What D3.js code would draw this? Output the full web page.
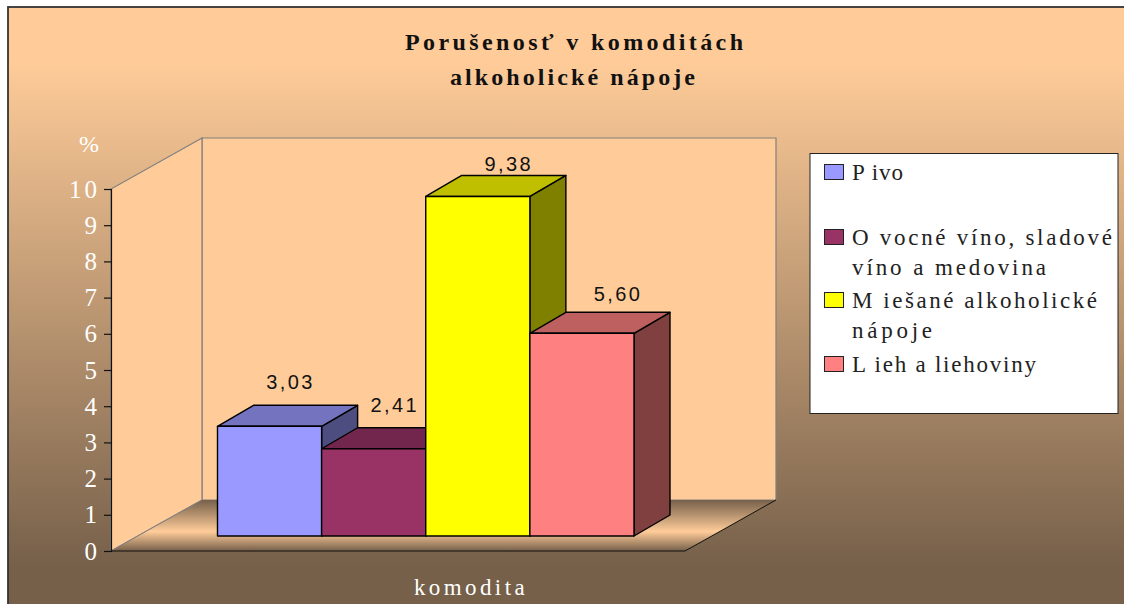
<!DOCTYPE html>
<html>
<head>
<meta charset="utf-8">
<script src="https://cdn.jsdelivr.net/npm/d3@7"></script>
<style>
  html, body { margin: 0; padding: 0; background: #fff; }
  svg { display: block; }
  text { font-family: "Liberation Serif", serif; }
</style>
</head>
<body>
<div id="chart"></div>
<script>
const categories = ["Pivo", "Ovocné víno, sladové víno a medovina", "Miešané alkoholické nápoje", "Lieh a liehoviny"];
const values = [3.03, 2.41, 9.38, 5.60];
const valueLabels = ["3,03", "2,41", "9,38", "5,60"];
const colors = ["#9999ff", "#993366", "#ffff00", "#ff8080"];
const topColors = ["#7373bf", "#73264d", "#bfbf00", "#bf6060"];
const sideColors = ["#4d4d80", "#4d1a33", "#808000", "#804040"];
const yTicks = [0, 1, 2, 3, 4, 5, 6, 7, 8, 9, 10];
const legendLines = [["P ivo"], ["O vocné víno, sladové", "víno a medovina"], ["M iešané alkoholické", "nápoje"], ["L ieh a liehoviny"]];
const legendY = [172, 237, 300, 364];
const legendWidths = [[51], [260, 194], [245, 80], [184]];
// the labels are not placed evenly in the original
const labelDx = [1, 1, 11, 16];
const labelDy = [-37, -37, -25, -32];

const svg = d3.select("#chart").append("svg").attr("width", 1124).attr("height", 604);
const defs = svg.append("defs");

const bg = defs.append("linearGradient").attr("id", "bg").attr("gradientUnits", "userSpaceOnUse")
  .attr("x1", 0).attr("x2", 0).attr("y1", 0).attr("y2", 604);
bg.append("stop").attr("offset", "0.1").attr("stop-color", "#ffcc99");
bg.append("stop").attr("offset", "0.94").attr("stop-color", "#76604a");

const fl = defs.append("linearGradient").attr("id", "floor").attr("x1", 0).attr("x2", 0).attr("y1", 0).attr("y2", 1);
fl.append("stop").attr("offset", "0").attr("stop-color", "#76604a");
fl.append("stop").attr("offset", "0.62").attr("stop-color", "#ffcc99");
fl.append("stop").attr("offset", "1").attr("stop-color", "#76604a");

svg.append("rect").attr("x", 8).attr("y", 7).attr("width", 1130).attr("height", 610)
  .attr("fill", "url(#bg)").attr("stroke", "#333").attr("stroke-width", 1.8);

// scales: front plane of the axis and the plane the bars stand on
const y = d3.scaleLinear().domain([0, 10]).range([551, 189]);
const x = d3.scaleBand().domain(categories).range([217.5, 634]);
const depthX = 91, depthY = -51;   // full depth of the floor
const barDx = 36, barDy = -21;     // depth of one bar
const barLift = y(0) - 536;        // bars sit a bit behind the front edge

const line = d3.line();
const wallStroke = "#808080";

// back wall
svg.append("path")
  .attr("d", line([[111 + depthX, y(0) + depthY], [111 + depthX, y(10) + depthY], [685 + depthX, y(10) + depthY], [685 + depthX, y(0) + depthY]]) + "Z")
  .attr("fill", "#ffcc99").attr("stroke", wallStroke).attr("stroke-width", 1.2);
// side wall
svg.append("path")
  .attr("d", line([[111, y(0)], [111, y(10)], [111 + depthX, y(10) + depthY], [111 + depthX, y(0) + depthY]]) + "Z")
  .attr("fill", "#ffcc99").attr("stroke", wallStroke).attr("stroke-width", 1.2);
// floor
svg.append("path")
  .attr("d", line([[111, y(0)], [111 + depthX, y(0) + depthY], [685 + depthX, y(0) + depthY], [685, y(0)]]) + "Z")
  .attr("fill", "url(#floor)");
svg.append("path").attr("d", line([[111, y(0)], [111 + depthX, y(0) + depthY]])).attr("stroke", wallStroke).attr("fill", "none");
svg.append("path").attr("d", line([[685, y(0)], [685 + depthX, y(0) + depthY]])).attr("stroke", "#111").attr("fill", "none");
svg.append("path").attr("d", line([[111, y(0)], [685, y(0)]])).attr("stroke", "#111").attr("stroke-width", 1.2).attr("fill", "none");

// y axis
const axis = svg.append("g").attr("transform", "translate(111,0)")
  .call(d3.axisLeft(y).tickValues(yTicks).tickSize(7).tickPadding(7));
axis.selectAll("path,line").attr("stroke", "#111").attr("stroke-width", 1.2);
axis.selectAll("text").attr("fill", "#fff").attr("font-size", 25).attr("font-family", "Liberation Serif");
axis.selectAll("text").filter(d => d === 10).attr("letter-spacing", 3).attr("dx", 3);

svg.append("text").attr("x", 89).attr("y", 152).attr("text-anchor", "middle")
  .attr("fill", "#fff").attr("font-size", 24).text("%");

// bars, drawn left to right so the neighbours overlap as in the picture
const bars = svg.append("g").attr("stroke", "#000").attr("stroke-width", 1.4).attr("stroke-linejoin", "round");
const barData = categories.map((c, i) => ({ c, i, v: values[i] }));
barData.forEach(d => {
  const x0 = x(d.c), x1 = x0 + x.bandwidth();
  const y0 = y(0) - barLift, y1 = y(d.v) - barLift;
  bars.append("path").attr("fill", sideColors[d.i])
    .attr("d", line([[x1, y0], [x1, y1], [x1 + barDx, y1 + barDy], [x1 + barDx, y0 + barDy]]) + "Z");
  bars.append("path").attr("fill", topColors[d.i])
    .attr("d", line([[x0, y1], [x1, y1], [x1 + barDx, y1 + barDy], [x0 + barDx, y1 + barDy]]) + "Z");
  bars.append("rect").attr("x", x0).attr("y", y1).attr("width", x.bandwidth()).attr("height", y0 - y1).attr("fill", colors[d.i]);
});

// value labels
svg.append("g").selectAll("text").data(barData).join("text")
  .attr("x", d => x(d.c) + x.bandwidth() / 2 + 20 + labelDx[d.i])
  .attr("y", d => y(d.v) - barLift + labelDy[d.i])
  .attr("text-anchor", "middle")
  .style("font-family", "'Liberation Sans', sans-serif")
  .attr("font-size", 20).attr("letter-spacing", 2.4).attr("fill", "#111")
  .text(d => valueLabels[d.i]);

// titles
const title = svg.append("g").attr("text-anchor", "middle").attr("font-weight", "bold")
  .attr("font-size", 24).attr("fill", "#111").attr("lengthAdjust", "spacing");
title.append("text").attr("x", 574).attr("y", 50).attr("textLength", 338).text("Porušenosť v komoditách");
title.append("text").attr("x", 572.5).attr("y", 85).attr("textLength", 245).text("alkoholické nápoje");

svg.append("text").attr("x", 471).attr("y", 595).attr("text-anchor", "middle")
  .attr("fill", "#fff").attr("font-size", 23).attr("letter-spacing", 3.4).text("komodita");

// legend
svg.append("rect").attr("x", 810).attr("y", 153.5).attr("width", 308).attr("height", 260)
  .attr("fill", "#fff").attr("stroke", "#222").attr("stroke-width", 1);
const legend = svg.append("g");
categories.forEach((c, i) => {
  legend.append("rect").attr("x", 824.5).attr("y", legendY[i] - 7.5).attr("width", 19).attr("height", 15)
    .attr("fill", colors[i]).attr("stroke", "#222").attr("stroke-width", 1);
  legendLines[i].forEach((t, j) => {
    legend.append("text").attr("x", 852).attr("y", legendY[i] + 8 + j * 29.5)
      .attr("font-size", 23).attr("fill", "#222")
      .attr("textLength", legendWidths[i][j]).attr("lengthAdjust", "spacing").text(t);
  });
});
</script>
</body>
</html>
